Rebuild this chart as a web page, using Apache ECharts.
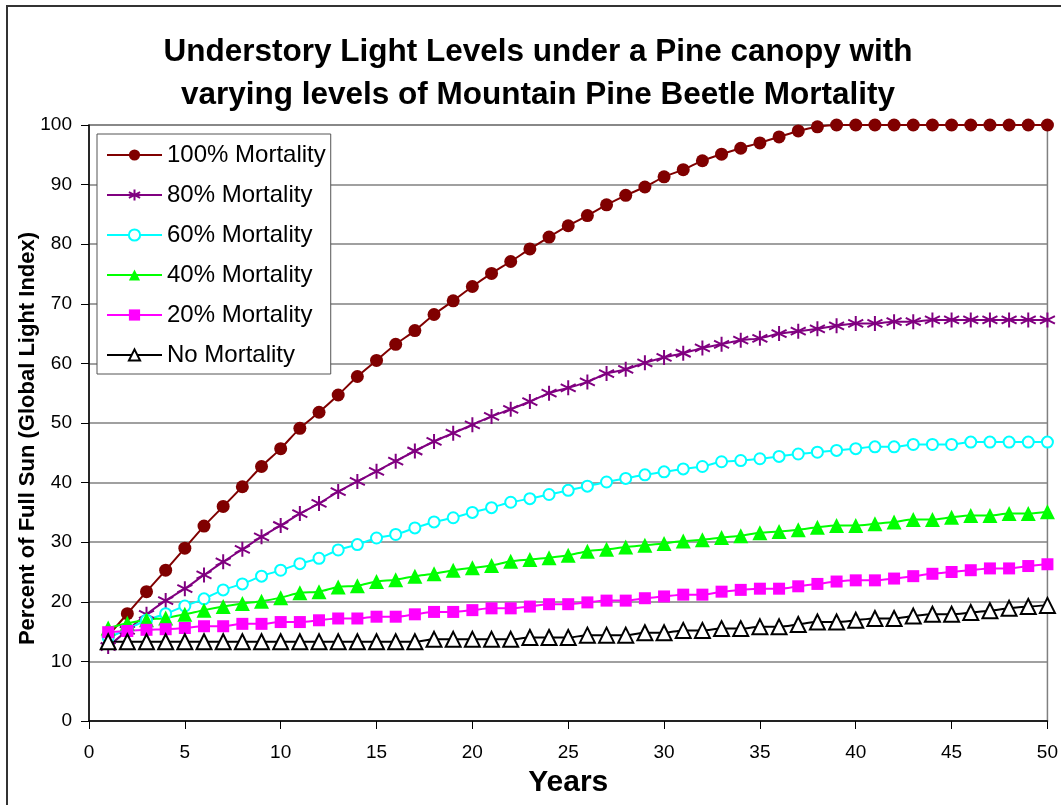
<!DOCTYPE html>
<html>
<head>
<meta charset="utf-8">
<script src="https://cdn.jsdelivr.net/npm/echarts@6/dist/echarts.min.js"></script>
<style>
html,body{margin:0;padding:0;background:#fff;}
#chart{width:1061px;height:805px;}
</style>
</head>
<body>
<div id="chart"></div>
<script>
var years = [1,2,3,4,5,6,7,8,9,10,11,12,13,14,15,16,17,18,19,20,21,22,23,24,25,26,27,28,29,30,31,32,33,34,35,36,37,38,39,40,41,42,43,44,45,46,47,48,49,50];
var xTicks = [0,5,10,15,20,25,30,35,40,45,50];
var yTicks = [0,10,20,30,40,50,60,70,80,90,100];
var seriesNames = ['100% Mortality','80% Mortality','60% Mortality','40% Mortality','20% Mortality','No Mortality'];

var mort100 = [14.3,18.0,21.7,25.3,29.0,32.7,36.0,39.3,42.7,45.7,
               49.1,51.8,54.7,57.8,60.5,63.2,65.5,68.2,70.5,72.9,
               75.1,77.1,79.2,81.2,83.1,84.8,86.6,88.2,89.6,91.3,
               92.5,94.0,95.1,96.1,97.0,98.0,99.0,99.7,100,100,
               100,100,100,100,100,100,100,100,100,100];
var mort80 = [12.5,15.2,17.9,20.2,22.2,24.5,26.7,28.8,30.9,32.8,
              34.8,36.5,38.5,40.2,41.9,43.6,45.3,46.9,48.3,49.7,
              51.1,52.3,53.6,55.0,55.9,56.9,58.3,59.0,60.1,61.0,
              61.7,62.6,63.2,63.9,64.2,65.0,65.4,65.8,66.3,66.7,
              66.7,67.0,67.0,67.3,67.3,67.3,67.3,67.3,67.3,67.3];
var mort60 = [14.0,15.4,16.9,18.0,19.3,20.5,22.0,23.0,24.3,25.3,
              26.4,27.3,28.7,29.6,30.7,31.3,32.4,33.4,34.1,35.0,
              35.8,36.7,37.3,38.0,38.7,39.4,40.1,40.7,41.3,41.8,
              42.3,42.7,43.5,43.7,44.0,44.4,44.8,45.1,45.4,45.7,
              46.0,46.0,46.4,46.4,46.4,46.8,46.8,46.8,46.8,46.8];
var mort40 = [15.6,16.4,17.0,17.3,17.9,18.6,19.2,19.7,20.1,20.7,
              21.5,21.7,22.5,22.7,23.4,23.7,24.3,24.7,25.3,25.7,
              26.1,26.8,27.1,27.4,27.8,28.5,28.8,29.2,29.5,29.8,
              30.2,30.4,30.8,31.1,31.6,31.8,32.1,32.5,32.8,32.8,
              33.1,33.4,33.8,33.8,34.2,34.5,34.5,34.8,34.8,35.1];
var mort20 = [14.9,15.1,15.3,15.4,15.6,15.9,15.9,16.3,16.3,16.6,
              16.6,16.9,17.2,17.2,17.5,17.5,17.9,18.3,18.3,18.6,
              18.9,18.9,19.2,19.6,19.6,19.9,20.2,20.2,20.6,20.9,
              21.2,21.2,21.7,22.0,22.2,22.2,22.6,23.0,23.4,23.6,
              23.6,23.9,24.3,24.7,25.0,25.3,25.6,25.6,26.0,26.3];
var mort0 = [13.3,13.3,13.3,13.3,13.3,13.3,13.3,13.3,13.3,13.3,
             13.3,13.3,13.3,13.3,13.3,13.3,13.3,13.7,13.7,13.7,
             13.7,13.7,14.0,14.0,14.0,14.4,14.4,14.4,14.8,14.8,
             15.2,15.2,15.5,15.5,15.8,15.8,16.2,16.6,16.6,16.9,
             17.2,17.2,17.6,17.9,17.9,18.2,18.5,18.9,19.2,19.4];

function pairs(vals){ return years.map(function(y,i){ return [y, vals[i]]; }); }

var starPath = 'path://M0,-10L0,10M-8.66,-5L8.66,5M-8.66,5L8.66,-5';

var chart = echarts.init(document.getElementById('chart'), null, {renderer:'canvas'});
var FONT = 'Liberation Sans, Arial, sans-serif';

function mkSeries(name, vals, color, symbol, size, extra){
  var s = {
    name: name, type: 'line', data: pairs(vals),
    smooth: 0.3, symbol: symbol, symbolSize: size, showSymbol: true,
    lineStyle: {color: color, width: 2},
    itemStyle: {color: color},
    emphasis: {disabled: true},
    animation: false
  };
  if (extra) { for (var k in extra) s[k] = extra[k]; }
  return s;
}

var option = {
  backgroundColor: '#fff',
  animation: false,
  title: {
    text: 'Understory Light Levels under a Pine canopy with\nvarying levels of Mountain Pine Beetle Mortality',
    left: 538, top: 31, padding: 0, textAlign: 'center',
    textStyle: {fontFamily: FONT, fontWeight: 'bold', fontSize: 31.5, lineHeight: 43, color: '#000'}
  },
  graphic: [{
    type: 'rect', silent: true, z: -10,
    shape: {x: 7, y: 6, width: 1200, height: 1000},
    style: {fill: 'none', stroke: '#333', lineWidth: 2}
  }],
  legend: {
    orient: 'vertical', left: 97, top: 134,
    padding: [8, 5, 6, 9],
    itemWidth: 55, itemHeight: 14, itemGap: 14,
    backgroundColor: '#fff', borderColor: '#555', borderWidth: 1,
    textStyle: {fontFamily: FONT, fontSize: 24, lineHeight: 26, color: '#000'},
    data: seriesNames
  },
  grid: {left: 89, right: 8, top: 125, bottom: 84, show: true, borderColor: '#808080', borderWidth: 1.5},
  xAxis: {
    type: 'value', min: 0, max: 50, interval: 5,
    name: 'Years', nameLocation: 'middle', nameGap: 47,
    nameTextStyle: {fontFamily: FONT, fontWeight: 'bold', fontSize: 30, color: '#000'},
    axisLine: {show: true, lineStyle: {color: '#000', width: 1.5}},
    axisTick: {show: true, inside: false, length: 8, lineStyle: {color: '#000'}},
    axisLabel: {fontFamily: FONT, fontSize: 19, color: '#000', margin: 22,
      formatter: function(v){ return xTicks.indexOf(v) >= 0 ? String(v) : ''; }},
    splitLine: {show: false}
  },
  yAxis: {
    type: 'value', min: 0, max: 100, interval: 10,
    name: 'Percent of Full Sun (Global Light Index)', nameLocation: 'middle', nameGap: 50,
    nameMoveOverlap: false,
    nameTextStyle: {fontFamily: FONT, fontWeight: 'bold', fontSize: 22, color: '#000', padding: [0, 31, 0, 0]},
    axisLine: {show: true, lineStyle: {color: '#000', width: 1.5}},
    axisTick: {show: true, inside: false, length: 8, lineStyle: {color: '#000'}},
    axisLabel: {fontFamily: FONT, fontSize: 19, color: '#000', margin: 17,
      formatter: function(v){ return yTicks.indexOf(v) >= 0 ? String(v) : ''; }},
    splitLine: {show: true, lineStyle: {color: '#808080', width: 1.5}}
  },
  series: [
    mkSeries(seriesNames[0], mort100, '#800000', 'circle', 13),
    mkSeries(seriesNames[1], mort80, '#800080', starPath, 15,
      {itemStyle: {color: '#800080', borderColor: '#800080', borderWidth: 2}}),
    mkSeries(seriesNames[2], mort60, '#00FFFF', 'emptyCircle', 11,
      {itemStyle: {color: '#00FFFF', borderColor: '#00FFFF', borderWidth: 2}}),
    mkSeries(seriesNames[3], mort40, '#00FF00', 'triangle', 15),
    mkSeries(seriesNames[4], mort20, '#FF00FF', 'rect', 12),
    mkSeries(seriesNames[5], mort0, '#000000', 'emptyTriangle', 15,
      {itemStyle: {color: '#000000', borderColor: '#000000', borderWidth: 2}})
  ]
};
chart.setOption(option);
</script>
</body>
</html>
